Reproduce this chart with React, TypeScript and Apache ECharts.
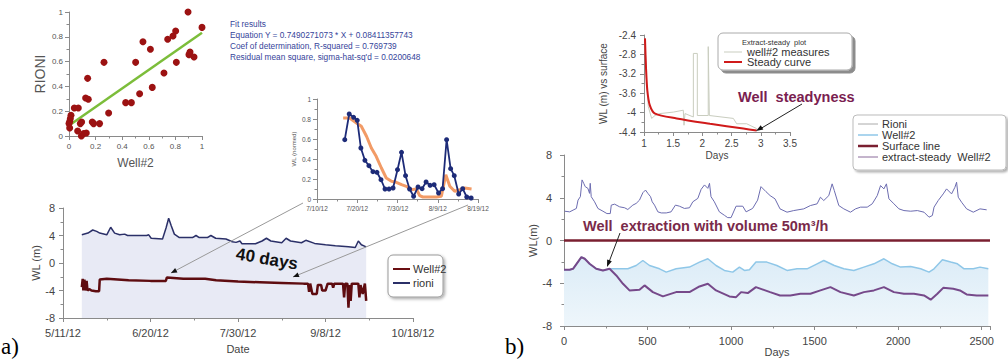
import React, { useEffect, useRef } from "react";
import * as echarts from "echarts";

const FONT = '"Liberation Sans", Arial, sans-serif';

// ---------- Panel a: scatter RIONI vs Well#2 ----------
const scatterWell2 = [0.895, 1.0, 0.802, 0.782, 0.742, 0.556, 0.612, 0.263, 0.501, 0.807, 0.91, 0.902, 0.94, 0.714, 0.14, 0.626, 0.531, 0.426, 0.469, 0.125, 0.145, 0.298, 0.04, 0.07, 0.015, 0.01, 0.005, 0.0, 0.005, 0.095, 0.085, 0.175, 0.185, 0.23, 0.065, 0.093, 0.11, 0.13];
const scatterRioni = [1.0, 0.876, 0.847, 0.806, 0.78, 0.76, 0.7, 0.594, 0.594, 0.594, 0.677, 0.656, 0.637, 0.508, 0.465, 0.392, 0.341, 0.269, 0.269, 0.306, 0.296, 0.185, 0.226, 0.226, 0.167, 0.14, 0.116, 0.1, 0.065, 0.113, 0.1, 0.113, 0.1, 0.1, 0.04, 0.0, 0.02, 0.024];
const fitSlope = 0.7490271073;
const fitIntercept = 0.08411357743;
const fitX = [0, 1];
const fitLines = [
  "Fit results",
  "Equation Y = 0.7490271073 * X + 0.08411357743",
  "Coef of determination, R-squared = 0.769739",
  "Residual mean square, sigma-hat-sq'd = 0.0200648",
];

// ---------- Panel a: inset (normed), days after 7/10/12 ----------
const insetTickLabels = ["7/10/12", "7/20/12", "7/30/12", "8/9/12", "8/19/12"];
const insetRioniDays = [6.9, 8.0, 9.1, 10.0, 10.9, 11.9, 12.9, 13.9, 14.9, 15.9, 16.9, 17.9, 18.9, 20, 21, 22, 23, 24, 25.1, 26.1, 27.1, 28.1, 29.1, 30.2, 31.2, 32.2, 33.2, 34.1, 35.2, 36.2, 37.2, 38.3];
const insetRioni = [0.593, 0.85, 0.817, 0.787, 0.51, 0.387, 0.333, 0.273, 0.267, 0.193, 0.1, 0.1, 0.11, 0.293, 0.467, 0.233, 0.1, 0.027, 0.12, 0.103, 0.17, 0.137, 0.143, 0.06, 0.103, 0.593, 0.303, 0.233, 0.05, 0.103, 0.02, 0.01];
const insetWellDays = [6.5, 8.1, 9.8, 11, 12.3, 13.5, 14.7, 16, 17.2, 18.5, 19.7, 21, 22.2, 23.4, 24.7, 25.5, 26.3, 28, 29.7, 30.9, 32, 33, 34.2, 35.5, 36.7, 38.4];
const insetWell = [0.81, 0.81, 0.76, 0.727, 0.627, 0.51, 0.427, 0.31, 0.21, 0.177, 0.167, 0.143, 0.127, 0.093, 0.1, 0.033, 0.02, 0.02, 0.02, 0.027, 0.243, 0.127, 0.077, 0.093, 0.11, 0.1];

// ---------- Panel a: time series, days after 5/11/12 ----------
const dateTickLabels = ["5/11/12", "6/20/12", "7/30/12", "9/8/12", "10/18/12"];
const rioniDays = [8.6, 11.4, 13.6, 15.4, 16.8, 20, 21.8, 23.6, 25.9, 28.2, 29.5, 38.2, 39.2, 40.3, 45.5, 47.1, 48.3, 49.4, 50.9, 53.2, 59.2, 60.8, 62.3, 66, 67.6, 69.8, 74.5, 77.4, 79.1, 80.9, 81.8, 88, 91, 93, 95, 100, 102, 104, 109, 111, 115, 120, 124.5, 130.5, 133.6, 135, 136.4, 138.6];
const rioniWL = [4.1, 4.35, 4.8, 4.6, 4.35, 4.1, 5.2, 4.35, 4.1, 4.2, 4.0, 4.0, 4.1, 3.6, 3.5, 5.1, 6.5, 5.5, 4.2, 3.7, 3.7, 4.0, 3.7, 3.7, 4.0, 3.6, 3.5, 3.1, 3.0, 3.2, 2.8, 2.8, 3.2, 3.6, 3.2, 2.95, 3.6, 3.2, 2.95, 3.3, 2.85, 2.65, 2.5, 2.35, 2.25, 3.2, 2.65, 2.35];
const well2Days = [8.6, 9, 9.3, 9.8, 10.2, 10.8, 11.2, 12, 13, 15, 16.5, 16.8, 20, 25, 30, 40, 47, 47.5, 55, 65, 70, 80, 90, 100, 110, 112, 112.5, 113, 114, 116, 116.5, 118, 118.5, 120, 121, 123, 123.5, 124, 128, 128.5, 129, 130, 130.5, 131, 131.5, 132, 135, 135.5, 136, 137, 138, 138.6];
const well2WL = [-3.5, -2.3, -4.0, -2.4, -4.0, -2.6, -4.0, -3.8, -4.0, -4.1, -4.1, -2.4, -2.3, -2.4, -2.5, -2.6, -2.6, -2.1, -2.3, -2.3, -2.5, -2.7, -2.8, -2.9, -3.0, -3.0, -4.2, -3.0, -4.5, -4.5, -3.2, -3.2, -4.0, -4.0, -3.0, -3.0, -3.6, -3.0, -3.0, -5.0, -3.0, -3.0, -6.5, -3.2, -5.5, -3.0, -3.0, -5.0, -3.2, -4.5, -3.0, -5.5];

// ---------- Panel b: inset extract-steady plot ----------
const steadyDays = [1.017, 1.034, 1.057, 1.1, 1.19, 1.56, 2.13, 2.7, 2.93];
const steadyWL = [-2.47, -3.06, -3.54, -3.85, -4.02, -4.12, -4.23, -4.33, -4.37];
const measDays = [1.017, 1.046, 1.074, 1.131, 1.188, 1.274, 1.502, 1.673, 1.685, 1.702, 1.845, 1.845, 1.913, 1.913, 2.1, 2.1, 2.119, 2.53, 2.587, 2.758, 2.93];
const measWL = [-2.57, -3.4, -3.88, -4.12, -4.06, -4.02, -3.99, -3.95, -4.26, -4.02, -4.09, -2.78, -2.78, -4.06, -4.06, -2.64, -4.06, -4.12, -4.23, -4.23, -4.33];

// ---------- Panel b: long simulation ----------
const bRioniDays = [4, 34, 54, 74, 84, 98, 108, 118, 127, 143, 153, 157, 163, 183, 203, 233, 257, 277, 283, 303, 333, 363, 382, 412, 432, 452, 472, 488, 502, 518, 528, 542, 562, 582, 612, 641, 667, 691, 721, 751, 771, 801, 821, 841, 861, 871, 880, 900, 930, 960, 980, 1000, 1030, 1070, 1090, 1129, 1159, 1179, 1209, 1234, 1263, 1293, 1335, 1375, 1435, 1475, 1515, 1535, 1555, 1585, 1605, 1618, 1645, 1675, 1715, 1745, 1775, 1815, 1845, 1875, 1895, 1915, 1930, 1945, 1975, 2005, 2035, 2075, 2115, 2155, 2185, 2205, 2215, 2240, 2270, 2290, 2320, 2340, 2350, 2360, 2380, 2410, 2450, 2490, 2530];
const bRioniWL = [2.74, 2.68, 2.84, 3.0, 3.78, 4.1, 5.67, 5.35, 5.04, 4.88, 4.41, 5.35, 4.1, 3.62, 3.0, 2.74, 2.52, 2.52, 3.31, 3.4, 3.15, 3.06, 2.9, 3.31, 3.47, 3.78, 4.47, 4.72, 4.41, 4.1, 3.62, 3.31, 2.68, 2.58, 2.58, 2.68, 3.31, 3.21, 3.0, 3.06, 3.62, 3.94, 4.79, 5.2, 4.88, 5.35, 4.1, 3.62, 2.68, 2.36, 2.14, 2.14, 3.21, 3.21, 2.68, 3.0, 3.78, 5.04, 4.57, 4.2, 3.9, 2.96, 2.65, 2.8, 2.96, 3.27, 3.43, 4.05, 3.74, 4.2, 5.3, 4.67, 3.27, 2.96, 2.65, 2.96, 3.12, 3.12, 3.43, 4.2, 5.14, 4.83, 5.3, 3.9, 3.43, 2.96, 2.8, 2.74, 2.8, 2.65, 2.18, 2.34, 3.12, 3.74, 4.36, 4.83, 4.36, 4.98, 5.45, 4.05, 3.58, 2.96, 2.65, 2.96, 2.87];
const bWellDays = [0, 34, 54, 104, 124, 153, 193, 233, 273, 333, 382, 432, 472, 512, 572, 612, 671, 751, 811, 861, 910, 960, 1010, 1050, 1080, 1110, 1149, 1214, 1274, 1335, 1395, 1455, 1515, 1555, 1618, 1675, 1735, 1795, 1855, 1915, 1965, 2015, 2075, 2135, 2185, 2215, 2265, 2315, 2355, 2395, 2450, 2490, 2540];
const bWellWL = [-2.74, -2.74, -2.65, -1.56, -1.71, -2.18, -2.65, -2.8, -2.65, -2.65, -2.65, -2.34, -1.87, -2.34, -2.65, -2.96, -2.65, -2.49, -2.02, -1.71, -2.34, -2.8, -2.96, -2.49, -2.8, -2.74, -2.02, -2.02, -2.34, -2.8, -2.65, -2.65, -2.18, -1.87, -2.34, -2.65, -2.8, -2.49, -2.18, -1.71, -2.18, -2.49, -2.43, -2.65, -2.96, -2.65, -1.81, -2.02, -2.18, -2.65, -2.65, -2.49, -2.65];
const bExtDays = [0, 34, 54, 104, 124, 153, 193, 233, 273, 313, 353, 392, 452, 482, 532, 592, 671, 751, 811, 861, 910, 990, 1030, 1060, 1100, 1149, 1234, 1293, 1355, 1415, 1475, 1535, 1595, 1655, 1735, 1795, 1855, 1915, 1975, 2035, 2095, 2155, 2195, 2235, 2270, 2330, 2370, 2410, 2470, 2540];
const bExtWL = [-2.74, -2.74, -2.65, -1.56, -1.71, -2.18, -2.65, -2.8, -2.65, -3.27, -4.05, -4.67, -4.61, -4.2, -4.83, -5.23, -4.83, -4.83, -4.3, -4.05, -4.67, -5.23, -5.3, -4.83, -4.92, -4.36, -4.83, -5.14, -5.14, -4.98, -4.98, -4.67, -4.36, -4.83, -5.14, -4.83, -4.67, -4.36, -4.83, -4.98, -4.98, -5.14, -5.54, -4.98, -4.43, -4.52, -4.67, -5.05, -5.14, -5.14];
const bSurfaceDays = [0, 2550];
const bSurfaceWL = [0, 0];

const zip = (xs: number[], ys: number[]) => xs.map((x, i) => [x, ys[i]]);

const AX = "#8a8a8a";

function axis(o: any) {
  const base: any = {
    type: "value",
    axisLine: { show: true, onZero: false, lineStyle: { color: AX, width: 1 } },
    axisTick: { show: true, length: 4, lineStyle: { color: AX } },
    minorTick: { show: true, splitNumber: 2, length: 2.5, lineStyle: { color: AX } },
    splitLine: { show: false },
    axisLabel: { color: "#555", fontSize: 8, fontFamily: FONT, margin: 6 },
    nameLocation: "middle",
    nameTextStyle: { color: "#555", fontSize: 10, fontFamily: FONT },
  };
  const r: any = { ...base, ...o };
  if (o.axisLabel) r.axisLabel = { ...base.axisLabel, ...o.axisLabel };
  if (o.nameTextStyle) r.nameTextStyle = { ...base.nameTextStyle, ...o.nameTextStyle };
  return r;
}

function arrowHead(tx: number, ty: number, fx: number, fy: number, len: number, half: number, fill: string) {
  const dx = tx - fx, dy = ty - fy;
  const d = Math.sqrt(dx * dx + dy * dy);
  const ux = dx / d, uy = dy / d;
  const bx = tx - ux * len, by = ty - uy * len;
  return {
    type: "polygon",
    shape: { points: [[tx, ty], [bx - uy * half, by + ux * half], [bx + uy * half, by - ux * half]] },
    style: { fill },
    z: 10,
  };
}

function txt(x: number, y: number, text: string, style: any, extra: any = {}) {
  return {
    type: "text",
    x,
    y,
    z: 10,
    ...extra,
    style: { text, fontFamily: FONT, textVerticalAlign: "middle", ...style },
  };
}

function legendLine(x1: number, x2: number, y: number, color: string, width: number) {
  return { type: "line", shape: { x1, y1: y, x2, y2: y }, style: { stroke: color, lineWidth: width }, z: 11 };
}

export default function App() {
  const ref = useRef<HTMLDivElement>(null);
  useEffect(() => {
    document.body.style.margin = "0";
    const chart = echarts.init(ref.current!, null, { renderer: "svg" });

    const option: any = {
      animation: false,
      backgroundColor: "#ffffff",
      grid: [
        { left: 69, top: 12, width: 133, height: 124 },
        { left: 317, top: 99, width: 161, height: 100 },
        { left: 63, top: 208, width: 350, height: 110 },
        { left: 644, top: 35, width: 146, height: 97 },
        { left: 564, top: 155, width: 426, height: 171 },
      ],
      xAxis: [
        axis({ gridIndex: 0, min: 0, max: 1, interval: 0.2, name: "Well#2", nameGap: 21, nameTextStyle: { fontSize: 12, color: "#555" } }),
        axis({
          gridIndex: 1, min: 0, max: 40, interval: 10,
          axisLabel: { fontSize: 6.5, formatter: (v: number) => insetTickLabels[Math.round(v / 10)] ?? "" },
        }),
        axis({
          gridIndex: 2, min: 0, max: 160, interval: 40, name: "Date", nameGap: 25,
          nameTextStyle: { fontSize: 11, color: "#444" },
          axisLabel: { fontSize: 11, color: "#444", margin: 9, formatter: (v: number) => dateTickLabels[Math.round(v / 40)] ?? "" },
        }),
        axis({ gridIndex: 3, min: 1, max: 3.5, interval: 0.5, name: "Days", nameGap: 18, nameTextStyle: { fontSize: 10, color: "#444" }, axisLabel: { fontSize: 10, color: "#444", margin: 6 } }),
        axis({
          gridIndex: 4, min: 0, max: 2550, interval: 500, name: "Days", nameGap: 19,
          nameTextStyle: { fontSize: 11, color: "#444" },
          axisLabel: { fontSize: 11, color: "#444", margin: 9, formatter: (v: number) => String(v) },
        }),
      ],
      yAxis: [
        axis({ gridIndex: 0, min: 0, max: 1, interval: 0.2, name: "RIONI", nameGap: 22, nameTextStyle: { fontSize: 14, color: "#555" } }),
        axis({ gridIndex: 1, min: 0, max: 1, interval: 0.2, name: "WL (normed)", nameGap: 20, nameTextStyle: { fontSize: 6, color: "#555" }, axisLabel: { fontSize: 6.5 } }),
        axis({ gridIndex: 2, min: -8, max: 8, interval: 4, name: "WL (m)", nameGap: 19, nameTextStyle: { fontSize: 11, color: "#444" }, axisLabel: { fontSize: 11, color: "#444", margin: 8 } }),
        axis({ gridIndex: 3, min: -4.4, max: -2.4, interval: 0.4, name: "WL (m) vs surface", nameGap: 36, nameTextStyle: { fontSize: 10, color: "#444" }, axisLabel: { fontSize: 10, color: "#444", margin: 8 } }),
        axis({ gridIndex: 4, min: -8, max: 8, interval: 4, name: "WL(m)", nameGap: 24, nameTextStyle: { fontSize: 11, color: "#444" }, axisLabel: { fontSize: 11, color: "#444", margin: 12 } }),
      ],
      series: [
        {
          type: "line", xAxisIndex: 0, yAxisIndex: 0, data: fitX.map((x) => [x, fitSlope * x + fitIntercept]),
          showSymbol: false, lineStyle: { color: "#7cbd3a", width: 2.5 }, z: 3,
        },
        {
          type: "scatter", xAxisIndex: 0, yAxisIndex: 0, data: zip(scatterWell2, scatterRioni),
          symbolSize: 7, itemStyle: { color: "#9c1212", opacity: 1 }, z: 4,
        },
        {
          type: "line", xAxisIndex: 1, yAxisIndex: 1, data: zip(insetWellDays, insetWell),
          showSymbol: false, lineStyle: { color: "#f08a4b", width: 3, opacity: 0.85 }, z: 3,
        },
        {
          type: "line", xAxisIndex: 1, yAxisIndex: 1, data: zip(insetRioniDays, insetRioni),
          symbol: "circle", symbolSize: 5, itemStyle: { color: "#1d2b78" }, lineStyle: { color: "#1d2b78", width: 1.8 }, z: 4,
        },
        {
          type: "line", xAxisIndex: 2, yAxisIndex: 2, data: zip(rioniDays, rioniWL),
          showSymbol: false, lineStyle: { color: "#2b3068", width: 1.5 },
          areaStyle: { color: "#e8eaf5", opacity: 1, origin: "start" }, z: 2,
        },
        {
          type: "line", xAxisIndex: 2, yAxisIndex: 2, data: zip(well2Days, well2WL),
          showSymbol: false, lineStyle: { color: "#5e0c10", width: 2.5 }, z: 3,
        },
        {
          type: "line", xAxisIndex: 3, yAxisIndex: 3, data: zip(measDays, measWL),
          showSymbol: false, lineStyle: { color: "#c9cdbf", width: 1 }, z: 2,
        },
        {
          type: "line", xAxisIndex: 3, yAxisIndex: 3, data: zip(steadyDays, steadyWL), smooth: 0.3,
          showSymbol: false, lineStyle: { color: "#d01a1a", width: 2 }, z: 3,
        },
        {
          type: "line", xAxisIndex: 4, yAxisIndex: 4, data: zip(bWellDays, bWellWL),
          showSymbol: false, lineStyle: { color: "#8fc7e8", width: 1.5 },
          areaStyle: {
            origin: "start", opacity: 1,
            color: new echarts.graphic.LinearGradient(0, 0, 0, 1, [
              { offset: 0, color: "#dcecf7" },
              { offset: 1, color: "#eef6fb" },
            ]),
          }, z: 2,
        },
        {
          type: "line", xAxisIndex: 4, yAxisIndex: 4, data: zip(bExtDays, bExtWL),
          showSymbol: false, lineStyle: { color: "#76498a", width: 2 }, z: 3,
        },
        {
          type: "line", xAxisIndex: 4, yAxisIndex: 4, data: zip(bRioniDays, bRioniWL),
          showSymbol: false, lineStyle: { color: "#6c6cb0", width: 1 }, z: 3,
        },
        {
          type: "line", xAxisIndex: 4, yAxisIndex: 4, data: zip(bSurfaceDays, bSurfaceWL),
          showSymbol: false, lineStyle: { color: "#7a1f30", width: 2.5 }, z: 3,
        },
      ],
      graphic: [
        // fit results
        ...fitLines.map((t, i) => txt(230, 24 + i * 11, t, { fontSize: 8.3, fill: "#35449a" })),
        // connectors
        { type: "line", shape: { x1: 171, y1: 273, x2: 303, y2: 203 }, style: { stroke: "#999", lineWidth: 1 }, z: 9 },
        { type: "line", shape: { x1: 293, y1: 277, x2: 468, y2: 205 }, style: { stroke: "#999", lineWidth: 1 }, z: 9 },
        arrowHead(171, 273, 303, 203, 6, 2.5, "#111"),
        arrowHead(293, 277, 468, 205, 6, 2.5, "#111"),
        // 40 days
        txt(267, 259, "40 days", { fontSize: 17, fontWeight: "bold", fill: "#111", textAlign: "center" }, { rotation: -0.17, originX: 0, originY: 0 }),
        // legend a
        {
          type: "rect", shape: { x: 388, y: 255, width: 55, height: 42, r: 5 },
          style: { fill: "#fff", stroke: "#9a9a9a", lineWidth: 1, shadowBlur: 3, shadowOffsetX: 1.5, shadowOffsetY: 1.5, shadowColor: "rgba(0,0,0,0.35)" }, z: 10,
        },
        legendLine(393, 410, 269, "#6a0e12", 2),
        txt(413, 269, "Well#2", { fontSize: 11, fill: "#333" }, { z: 11 }),
        legendLine(393, 410, 283, "#2b3068", 2),
        txt(413, 283, "rioni", { fontSize: 11, fill: "#333" }, { z: 11 }),
        // panel labels
        txt(1, 346, "a)", { fontSize: 23, fontFamily: '"Liberation Serif", "Times New Roman", serif', fill: "#000" }),
        txt(505, 346, "b)", { fontSize: 23, fontFamily: '"Liberation Serif", "Times New Roman", serif', fill: "#000" }),
        // legend b inset
        {
          type: "rect", shape: { x: 718, y: 33, width: 134, height: 37, r: 5 },
          style: { fill: "#fff", stroke: "#aaa", lineWidth: 1, shadowBlur: 0, shadowOffsetX: 3, shadowOffsetY: 3, shadowColor: "rgba(0,0,0,0.45)" }, z: 10,
        },
        txt(742, 42, "Extract-steady  plot", { fontSize: 7.5, fill: "#333" }, { z: 11 }),
        legendLine(724, 742, 52, "#c9cdbf", 1),
        txt(747, 52, "well#2 measures", { fontSize: 11, fill: "#333" }, { z: 11 }),
        legendLine(724, 742, 62, "#d01a1a", 2),
        txt(747, 62, "Steady curve", { fontSize: 11, fill: "#333" }, { z: 11 }),
        // Well steadyness
        txt(738, 97, "Well  steadyness", { fontSize: 14.5, fontWeight: "bold", fill: "#7a2050" }),
        { type: "line", shape: { x1: 802, y1: 104, x2: 760, y2: 129 }, style: { stroke: "#222", lineWidth: 1 }, z: 10 },
        arrowHead(756, 131, 802, 104, 7, 2.5, "#111"),
        // extraction text
        txt(583, 226, "Well  extraction with volume 50m³/h", { fontSize: 14.5, fontWeight: "bold", fill: "#7a2a4a" }),
        { type: "line", shape: { x1: 620, y1: 233, x2: 609, y2: 262 }, style: { stroke: "#222", lineWidth: 1 }, z: 10 },
        arrowHead(607, 267, 620, 233, 7, 2.5, "#111"),
        // legend b main
        {
          type: "rect", shape: { x: 853, y: 115, width: 153, height: 55, r: 4 },
          style: { fill: "#fff", stroke: "#bbb", lineWidth: 1, shadowBlur: 2, shadowOffsetX: 2, shadowOffsetY: 2, shadowColor: "rgba(0,0,0,0.3)" }, z: 10,
        },
        legendLine(858, 878, 124, "#aaaaaa", 1),
        txt(882, 124, "Rioni", { fontSize: 11, fill: "#333" }, { z: 11 }),
        legendLine(858, 878, 135, "#8fc7e8", 1.5),
        txt(882, 135, "Well#2", { fontSize: 11, fill: "#333" }, { z: 11 }),
        legendLine(858, 878, 146, "#7a1f30", 2.5),
        txt(882, 146, "Surface line", { fontSize: 11, fill: "#333" }, { z: 11 }),
        legendLine(858, 878, 157, "#8a6a9a", 1),
        txt(882, 157, "extract-steady  Well#2", { fontSize: 11, fill: "#333" }, { z: 11 }),
      ],
    };

    chart.setOption(option);
    return () => chart.dispose();
  }, []);
  return <div ref={ref} style={{ width: 1008, height: 360, background: "#fff" }} />;
}
